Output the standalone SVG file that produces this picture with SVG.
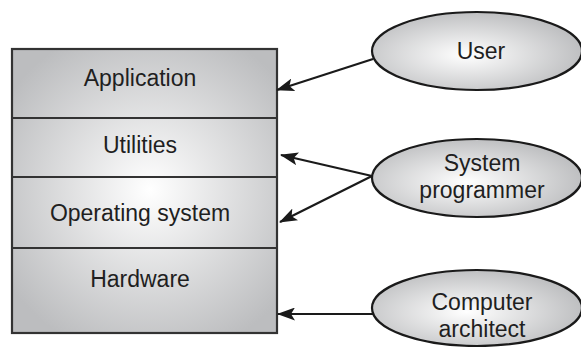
<svg xmlns="http://www.w3.org/2000/svg" width="581" height="347" viewBox="0 0 581 347">
<defs>
<radialGradient id="boxg" gradientUnits="userSpaceOnUse" cx="150" cy="190" r="170">
<stop offset="0" stop-color="#ffffff"/>
<stop offset="1" stop-color="#bcbdbf"/>
</radialGradient>
<radialGradient id="ellg" cx="0.45" cy="0.55" r="0.6">
<stop offset="0" stop-color="#ffffff"/>
<stop offset="1" stop-color="#b9babc"/>
</radialGradient>
<marker id="arr" markerWidth="18" markerHeight="13" refX="17" refY="6.5" orient="auto" markerUnits="userSpaceOnUse">
<path d="M0,0 L18,6.5 L0,13 L4,6.5 Z" fill="#1a1a1a"/>
</marker>
<style>
.t{font-family:"Liberation Sans",Arial,sans-serif;font-size:23px;fill:#1f1f1f;text-anchor:middle}
.layer{fill:url(#boxg);stroke:#333;stroke-width:2.2}
.ell{fill:url(#ellg);stroke:#1a1a1a;stroke-width:2.2}
.c{stroke:#1a1a1a;stroke-width:2.2;fill:none;marker-end:url(#arr)}
</style>
</defs>
<rect x="0" y="0" width="581" height="347" fill="#fff"/>
<g id="stack">
<rect class="layer" x="12" y="49" width="265" height="284"/>
<line x1="12" y1="118" x2="277" y2="118" stroke="#333" stroke-width="2.2"/>
<line x1="12" y1="177" x2="277" y2="177" stroke="#333" stroke-width="2.2"/>
<line x1="12" y1="248" x2="277" y2="248" stroke="#333" stroke-width="2.2"/>
</g>
<g id="application"><text class="t" x="140" y="86">Application</text></g>
<g id="utilities"><text class="t" x="140" y="153">Utilities</text></g>
<g id="os"><text class="t" x="140" y="221">Operating system</text></g>
<g id="hardware"><text class="t" x="140" y="287">Hardware</text></g>
<g id="user">
<ellipse class="ell" cx="477" cy="51" rx="105" ry="39"/>
<text class="t" x="481" y="59">User</text>
</g>
<g id="sysprog">
<ellipse class="ell" cx="477" cy="178" rx="105" ry="39"/>
<text class="t" x="482" y="171">System</text>
<text class="t" x="482" y="198">programmer</text>
</g>
<g id="architect">
<ellipse class="ell" cx="477" cy="308" rx="105" ry="38"/>
<text class="t" x="482" y="310">Computer</text>
<text class="t" x="482" y="337">architect</text>
</g>
<g id="connectors">
<line class="c" x1="373" y1="59" x2="277" y2="90"/>
<line class="c" x1="372" y1="176" x2="281" y2="155"/>
<line class="c" x1="372" y1="176" x2="280" y2="222"/>
<line class="c" x1="373" y1="314" x2="278" y2="314"/>
</g>
</svg>
